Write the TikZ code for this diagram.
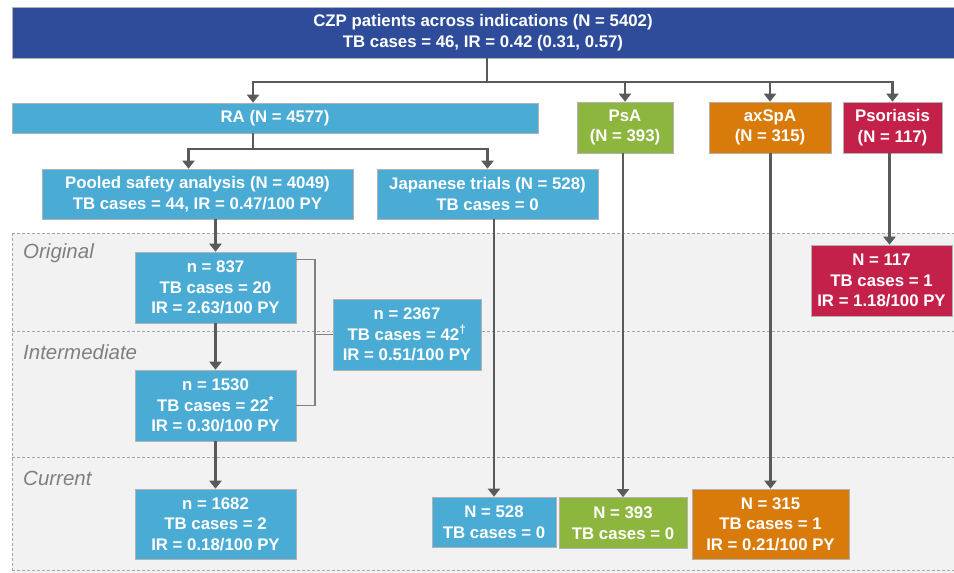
\documentclass[tikz,border=0pt]{standalone}
\usepackage{fontspec}
\setmainfont{Liberation Sans}
\usepackage{tikz}
\usetikzlibrary{calc, arrows.meta, positioning}

\definecolor{topblue}{HTML}{2E4C9A}
\definecolor{rablue}{HTML}{4AABD5}
\definecolor{psagreen}{HTML}{8DB63F}
\definecolor{axorange}{HTML}{D97B0B}
\definecolor{psored}{HTML}{C3204A}
\definecolor{lanegray}{HTML}{F2F2F2}
\definecolor{linegray}{HTML}{5A5A5A}

\tikzset{
  box/.style={draw=black!30, line width=0.6pt, text=white, align=center, inner sep=0pt,
    font=\bfseries\fontsize{16.8}{20.5}\selectfont},
  conn/.style={draw=linegray, line width=2.6pt},
  brace/.style={draw=black!50, line width=1.3pt},
  lanesep/.style={draw=black!35, line width=0.7pt, dash pattern=on 3pt off 2pt},
  lane/.style={anchor=west, text=black!50, inner sep=0pt, font=\itshape\fontsize{20.5}{24}\selectfont}
}

\begin{document}
\begin{tikzpicture}[x=1pt, y=-1pt, >={Triangle[width=12pt,length=8pt]}]
\useasboundingbox (0,0) rectangle (954,573);

% background lanes
\fill[lanegray] (12,233) rectangle (954,573);
\foreach \yy in {233, 331, 457, 570}
  \draw[lanesep] (12,\yy) -- (954,\yy);
\draw[lanesep] (12,233) -- (12,573);

\node[lane] (lorig)  at (23,253) {Original};
\node[lane] (linter) at (23,352) {Intermediate};
\node[lane] (lcurr)  at (23,478) {Current};

% top level
\node[box, fill=topblue, minimum width=942pt, minimum height=51pt] (top) at (483,32.5)
  {CZP patients across indications (N = 5402)\\TB cases = 46, IR = 0.42 (0.31, 0.57)};

\node[box, fill=rablue,   minimum width=526pt, minimum height=30pt] (ra)    at (275,118)   {RA (N = 4577)};
\node[box, fill=psagreen, minimum width=96pt,  minimum height=51pt] (psa)   at (625,127.5) {PsA\\(N = 393)};
\node[box, fill=axorange, minimum width=122pt, minimum height=51pt] (axspa) at (770,127.5) {axSpA\\(N = 315)};
\node[box, fill=psored,   minimum width=99pt,  minimum height=51pt] (pso)   at (892.5,127.5) {Psoriasis\\(N = 117)};

% RA studies
\node[box, fill=rablue, minimum width=311pt, minimum height=50pt] (pooled) at (197.5,194)
  {Pooled safety analysis (N = 4049)\\TB cases = 44, IR = 0.47/100 PY};
\node[box, fill=rablue, minimum width=221pt, minimum height=50pt] (jpn) at (487.5,194)
  {Japanese trials (N = 528)\\TB cases = 0};

% periods
\node[box, fill=rablue, minimum width=161pt, minimum height=71pt] (orig)  at (215.5,287.5)
  {n = 837\\TB cases = 20\\IR = 2.63/100 PY};
\node[box, fill=rablue, minimum width=161pt, minimum height=71pt] (inter) at (215.5,405.5)
  {n = 1530\\TB cases = 22\textsuperscript{*}\\IR = 0.30/100 PY};
\node[box, fill=rablue, minimum width=161pt, minimum height=70pt] (curr)  at (215.5,524)
  {n = 1682\\TB cases = 2\\IR = 0.18/100 PY};
\node[box, fill=rablue, minimum width=148pt, minimum height=71pt] (merged) at (407,334.5)
  {n = 2367\\TB cases = 42\textsuperscript{†}\\IR = 0.51/100 PY};

\node[box, fill=psored,   minimum width=141pt, minimum height=71pt] (psores) at (881.5,280.5)
  {N = 117\\TB cases = 1\\IR = 1.18/100 PY};
\node[box, fill=rablue,   minimum width=124pt, minimum height=50pt] (jpnres) at (494,522)
  {N = 528\\TB cases = 0};
\node[box, fill=psagreen, minimum width=128pt, minimum height=51pt] (psares) at (623,523)
  {N = 393\\TB cases = 0};
\node[box, fill=axorange, minimum width=157pt, minimum height=70pt] (axres)  at (770.5,524)
  {N = 315\\TB cases = 1\\IR = 0.21/100 PY};

% connectors
\coordinate (split) at (487,82);
\draw[conn] (top.south -| split) -- (split);
\draw[conn,->] (split) -| ([xshift=-22pt]ra.north);
\draw[conn,->] (split) -| (psa.north);
\draw[conn,->] (split) -| (axspa.north);
\draw[conn,->] (split) -| (pso.north);

\coordinate (rasplit) at (253,149);
\draw[conn] (ra.south -| rasplit) -- (rasplit);
\draw[conn,->] (rasplit) -| ([xshift=-9pt]pooled.north);
\draw[conn,->] (rasplit) -| (jpn.north);

\draw[conn,->] (pooled.south -| orig.north) -- (orig.north);
\draw[conn,->] (orig) -- (inter);
\draw[conn,->] (inter) -- (curr);

\draw[conn,->] (jpn.south -| jpnres.north) -- (jpnres.north);
\draw[conn,->] (psa.south -| psares.north) -- (psares.north);
\draw[conn,->] (axspa.south -| axres.north) -- (axres.north);
\draw[conn,->] ([xshift=-3pt]pso.south) -- ([xshift=-3pt]pso.south |- psores.north);

% bracket joining original and intermediate
\coordinate (brk) at (315,334.5);
\draw[brace] ([yshift=-8pt]orig.north east) -| (brk) |- (inter.east);
\draw[brace] (brk) -- (merged.west);

\end{tikzpicture}
\end{document}
